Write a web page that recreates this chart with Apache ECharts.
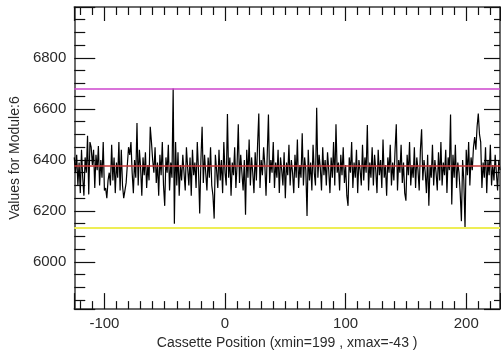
<!DOCTYPE html>
<html>
<head>
<meta charset="utf-8">
<script src="https://cdn.jsdelivr.net/npm/echarts@6/dist/echarts.min.js"></script>
<style>
  html, body { margin: 0; padding: 0; background: #ffffff; }
  #chart { width: 501px; height: 355px; }
</style>
</head>
<body>
<div id="chart"></div>
<script>
// Cassette scan: one reading per position step
const positionStart = -125;
const positionStep = 1;
const moduleValues = [
  6410, 6350, 6420, 6300, 6390, 6270, 6440, 6330, 6260, 6410,
  6350, 6495, 6265, 6470, 6450, 6380, 6440, 6290, 6420, 6360,
  6455, 6300, 6400, 6330, 6470, 6280, 6290, 6250, 6320, 6350,
  6300, 6460, 6320, 6410, 6270, 6390, 6330, 6470, 6280, 6440,
  6300, 6250, 6280, 6310, 6380, 6450, 6420, 6470, 6350, 6270,
  6400, 6330, 6545, 6300, 6440, 6370, 6260, 6410, 6340, 6430,
  6290, 6380, 6320, 6530, 6470, 6400, 6350, 6450, 6310, 6390,
  6260, 6420, 6340, 6470, 6300, 6220, 6410, 6350, 6460, 6280,
  6390, 6330, 6680, 6150, 6470, 6300, 6430, 6260, 6380, 6320,
  6420, 6350, 6280, 6450, 6370, 6300, 6410, 6260, 6440, 6340,
  6390, 6290, 6470, 6360, 6190, 6400, 6530, 6310, 6420, 6350,
  6280, 6410, 6330, 6450, 6300, 6260, 6170, 6420, 6360, 6290,
  6440, 6320, 6400, 6270, 6470, 6350, 6300, 6580, 6330, 6410,
  6260, 6390, 6340, 6450, 6290, 6380, 6540, 6310, 6420, 6350,
  6280, 6400, 6185, 6440, 6330, 6480, 6300, 6410, 6350, 6270,
  6430, 6320, 6460, 6582, 6290, 6400, 6340, 6450, 6380, 6260,
  6420, 6578, 6310, 6400, 6350, 6470, 6290, 6390, 6330, 6440,
  6270, 6410, 6360, 6300, 6430, 6250, 6390, 6340, 6460, 6300,
  6400, 6350, 6270, 6420, 6330, 6480, 6290, 6380, 6330, 6505,
  6300, 6410, 6360, 6180, 6440, 6320, 6390, 6280, 6460, 6350,
  6300, 6605, 6330, 6420, 6370, 6280, 6450, 6340, 6400, 6300,
  6430, 6360, 6270, 6410, 6330, 6470, 6300, 6540, 6350, 6390,
  6280, 6420, 6340, 6450, 6310, 6380, 6260, 6220, 6410, 6350,
  6470, 6290, 6390, 6330, 6440, 6270, 6400, 6360, 6300, 6460,
  6320, 6410, 6350, 6537, 6280, 6390, 6330, 6450, 6300, 6420,
  6360, 6270, 6440, 6340, 6400, 6290, 6480, 6330, 6380, 6260,
  6410, 6350, 6460, 6300, 6390, 6320, 6440, 6540, 6280, 6400,
  6350, 6460, 6310, 6390, 6270, 6240, 6420, 6340, 6470, 6300,
  6380, 6330, 6450, 6290, 6410, 6360, 6280, 6440, 6520, 6320,
  6400, 6350, 6270, 6420, 6220, 6380, 6330, 6460, 6300, 6400,
  6350, 6280, 6430, 6320, 6470, 6300, 6390, 6340, 6440, 6270,
  6410, 6360, 6578, 6225, 6420, 6330, 6460, 6290, 6390, 6350,
  6270, 6160, 6400, 6320, 6133, 6440, 6340, 6470, 6300, 6410,
  6360, 6450, 6490, 6440, 6530, 6582, 6500, 6470, 6290, 6390,
  6330, 6450, 6270, 6400, 6340, 6460, 6300, 6380, 6320, 6420,
  6350, 6280, 6400, 6360
];

// Reference levels: maximum, mean and minimum of the scan
const maxLevel = 6680;
const meanLevel = 6378;
const minLevel = 6133;

// Axis extents and captions
const xRange = [-125, 228];
const yRange = [5815, 7000];
const xTitle = 'Cassette Position (xmin=199 , xmax=-43 )';
const yTitle = 'Values for Module:6';

const points = moduleValues.map((v, i) => [positionStart + i * positionStep, v]);

const frameLine = { show: true, onZero: false, lineStyle: { color: '#3a3a3a', width: 1.5 } };
const labelFont = { fontFamily: 'Liberation Sans, Arial, sans-serif', fontSize: 15, color: '#2a2a2a' };
const plainNumber = (v) => String(v);

const chart = echarts.init(document.getElementById('chart'), null, { renderer: 'canvas' });
chart.setOption({
  animation: false,
  backgroundColor: '#ffffff',
  grid: { left: 71, right: 1, top: 7, bottom: 43, containLabel: false },
  xAxis: [
    {
      type: 'value', position: 'bottom', min: xRange[0], max: xRange[1], splitNumber: 4,
      axisLine: frameLine,
      axisTick: { show: true, inside: true, length: 16, lineStyle: { color: '#111', width: 1.2 } },
      minorTick: { show: true, splitNumber: 10, length: 8, lineStyle: { color: '#111', width: 1.2 } },
      axisLabel: Object.assign({ margin: 7, showMinLabel: false, showMaxLabel: false, formatter: plainNumber }, labelFont),
      splitLine: { show: false },
      name: xTitle, nameLocation: 'middle', nameGap: 23,
      nameTextStyle: { fontFamily: 'Liberation Sans, Arial, sans-serif', fontSize: 14, color: '#2a2a2a' }
    },
    {
      type: 'value', position: 'top', min: xRange[0], max: xRange[1], splitNumber: 4,
      axisLine: frameLine,
      axisTick: { show: true, inside: true, length: 14, lineStyle: { color: '#111', width: 1.2 } },
      minorTick: { show: true, splitNumber: 10, length: 8, lineStyle: { color: '#111', width: 1.2 } },
      axisLabel: { show: false },
      splitLine: { show: false }
    }
  ],
  yAxis: [
    {
      type: 'value', position: 'left', min: yRange[0], max: yRange[1], splitNumber: 6,
      axisLine: frameLine,
      axisTick: { show: true, inside: true, length: 21, lineStyle: { color: '#111', width: 1.2 } },
      minorTick: { show: true, splitNumber: 4, length: 11, lineStyle: { color: '#111', width: 1.2 } },
      axisLabel: Object.assign({ margin: 8, showMinLabel: false, showMaxLabel: false, formatter: plainNumber }, labelFont),
      splitLine: { show: false },
      name: yTitle, nameLocation: 'middle', nameGap: 50, nameRotate: 90,
      nameTextStyle: { fontFamily: 'Liberation Sans, Arial, sans-serif', fontSize: 14, color: '#2a2a2a' }
    },
    {
      type: 'value', position: 'right', min: yRange[0], max: yRange[1], splitNumber: 6,
      axisLine: frameLine,
      axisTick: { show: true, inside: true, length: 16, lineStyle: { color: '#111', width: 1.2 } },
      minorTick: { show: true, splitNumber: 4, length: 6, lineStyle: { color: '#111', width: 1.2 } },
      axisLabel: { show: false },
      splitLine: { show: false }
    }
  ],
  series: [
    {
      type: 'line',
      xAxisIndex: 0, yAxisIndex: 0,
      data: points,
      showSymbol: false,
      symbol: 'none',
      lineStyle: { color: '#000000', width: 1.2 },
      z: 2,
      markLine: {
        silent: true,
        symbol: 'none',
        label: { show: false },
        data: [
          { yAxis: maxLevel, lineStyle: { color: '#cc44cc', width: 1.6, type: 'solid' } },
          { yAxis: meanLevel, lineStyle: { color: '#c83a3a', width: 1.6, type: 'solid' } },
          { yAxis: minLevel, lineStyle: { color: '#eeee55', width: 1.8, type: 'solid' } }
        ]
      }
    }
  ]
});
</script>
</body>
</html>
